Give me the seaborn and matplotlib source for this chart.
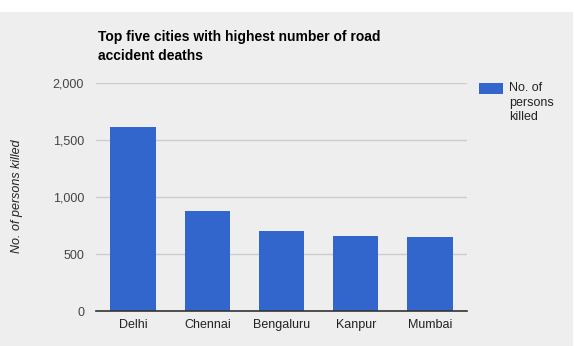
import matplotlib
matplotlib.use("Agg")
import matplotlib.pyplot as plt
import matplotlib.patches as mpatches
import seaborn as sns
import pandas as pd

cities = ["Delhi", "Chennai", "Bengaluru", "Kanpur", "Mumbai"]
persons_killed = [1617, 880, 703, 660, 650]
y_ticks = [0, 500, 1000, 1500, 2000]
y_tick_labels = ["0", "500", "1,000", "1,500", "2,000"]

title = "Top five cities with highest number of road\naccident deaths"
y_label = "No. of persons killed"
legend_label = "No. of\npersons\nkilled"

bg = "#eeeeee"
bar_color = "#3366cc"

sns.set_theme(style="white")
plt.rcParams["font.family"] = ["Liberation Sans", "DejaVu Sans"]

df = pd.DataFrame({"city": cities, "killed": persons_killed})

W, H = 574, 346
fig = plt.figure(figsize=(W / 100, H / 100), dpi=100)
fig.patch.set_facecolor("white")
# grey panel below the white strip at the top
fig.add_artist(mpatches.Rectangle((0, 0), 573 / W, (H - 12) / H,
                                  transform=fig.transFigure, facecolor=bg,
                                  edgecolor="none", zorder=0))

ax = fig.add_axes([96 / W, (H - 311) / H, (467 - 96) / W, (311 - 83.3) / H])
ax.set_facecolor(bg)

sns.barplot(data=df, x="city", y="killed", color=bar_color, saturation=1,
            width=0.61, linewidth=0, ax=ax, zorder=3)

ax.set_ylim(0, 2000)
ax.set_xlim(-0.5, len(cities) - 0.5)
ax.set_yticks(y_ticks)
ax.set_yticklabels(y_tick_labels)
ax.yaxis.grid(True, color="#cccccc", linewidth=1, zorder=0)
ax.set_axisbelow(True)
for s in ["top", "right", "left"]:
    ax.spines[s].set_visible(False)
ax.spines["bottom"].set_color("#333333")
ax.spines["bottom"].set_linewidth(1.2)
ax.spines["bottom"].set_zorder(4)

ax.tick_params(axis="y", length=0, pad=8.6, labelsize=9, labelcolor="#444444")
ax.tick_params(axis="x", length=0, pad=6, labelsize=9, labelcolor="#222222")
ax.set_xlabel("")
ax.set_ylabel("")

fig.text(17 / W, 1 - 196 / H, y_label, rotation=90, fontstyle="italic",
         fontsize=9, color="#222222", ha="center", va="center")

fig.text(98 / W, 1 - 30 / H, title, fontsize=10, fontweight="bold",
         color="black", ha="left", va="top", linespacing=1.5)

# legend swatch and label
fig.add_artist(mpatches.Rectangle((479 / W, 1 - 94 / H), 24 / W, 11 / H,
                                  transform=fig.transFigure, facecolor=bar_color,
                                  edgecolor="none"))
fig.text(509 / W, 1 - 82 / H, legend_label, fontsize=9, color="#222222",
         ha="left", va="top", linespacing=1.3)

fig.savefig("out.png", dpi=100, facecolor=fig.get_facecolor())
